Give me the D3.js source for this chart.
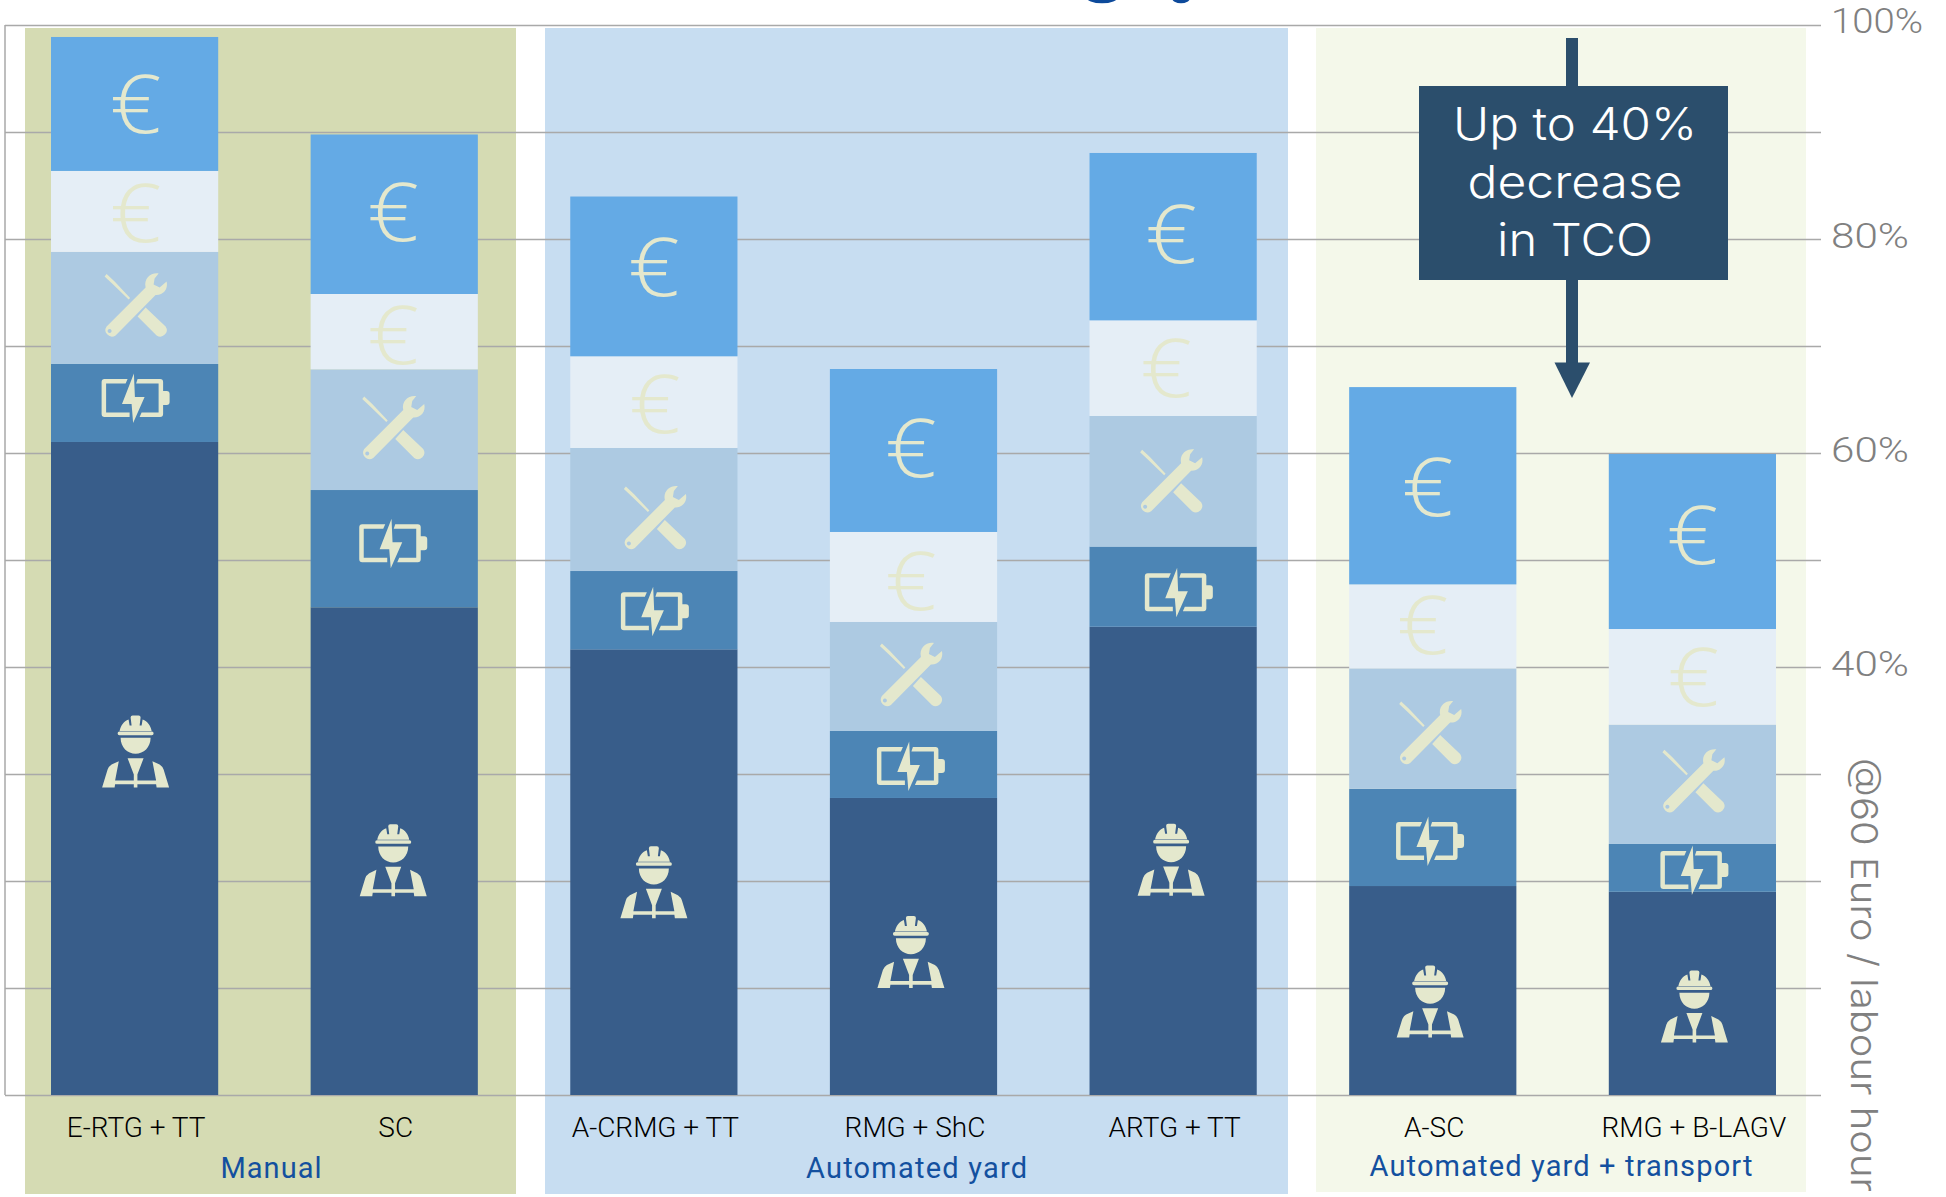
<!DOCTYPE html>
<html>
<head>
<meta charset="utf-8">
<script src="https://cdn.jsdelivr.net/npm/d3@7"></script>
<style>
  html, body { margin: 0; padding: 0; background: #fff; overflow: hidden; }
  svg { display: block; }
</style>
</head>
<body>
<div id="chart"></div>
<script>
// categories and values (% of the tallest scale)
var categories = ["E-RTG + TT", "SC", "A-CRMG + TT", "RMG + ShC", "ARTG + TT", "A-SC", "RMG + B-LAGV"];
var labour      = [61.03, 45.58, 41.65, 27.76, 43.77, 19.53, 18.99];
var energy      = [7.29, 10.96, 7.32, 6.26, 7.48, 9.09, 4.47];
var maintenance = [10.47, 11.28, 11.5, 10.19, 12.21, 11.25, 11.16];
var costPale    = [7.57, 7.04, 8.57, 8.41, 8.94, 7.85, 8.93];
var costTop     = [12.52, 14.91, 14.93, 15.23, 15.64, 18.44, 16.36];
var tickValues  = [0, 10, 20, 30, 40, 50, 60, 70, 80, 90, 100];
var tickLabels  = [100, 80, 60, 40];
var groupNames  = ["Manual", "Automated yard", "Automated yard + transport"];
var calloutLines = ["Up to 40%", "decrease", "in TCO"];

var width = 1946, height = 1197;

var seriesKeys = ["labour", "energy", "maintenance", "costPale", "costTop"];
var seriesValues = { labour: labour, energy: energy, maintenance: maintenance, costPale: costPale, costTop: costTop };
var colors = { labour: "#385d8a", energy: "#4c85b5", maintenance: "#adcae2", costPale: "#e5eef6", costTop: "#64aae5" };
var iconColor = "#e4e8cd";

// the icons sit a little off the middle of their segment, bar by bar
var iconDx = {
    labour:      [1, -1, 0, -2.6, -2, -2.6, 2],
    energy:      [1, -1, 1, -2.6, 5.7, -2.7, 2],
    maintenance: [1, -1, 1, -2.6, -2, -2.6, 1],
    costPale:    [1, -1, 1, -2.6, -7, -10, 1],
    costTop:     [1, -1, 0, -2.6, -2, -5, 0]
};
var iconDy = {
    labour:      [-17, 9, 10, 5.5, -1, 11, 13],
    energy:      [-5, -5.5, 1, 1.5, 5.5, 3.7, 2],
    maintenance: [-2.5, -1.6, 8.5, -1.5, 0, 4.5, -3],
    costPale:    [0, 2.5, 1, 2.7, -1, -3, -1],
    costTop:     [-1, -3, -11, -4, -3.6, 0, -8]
};

var icons = {
    wrench: "M23,-32 L19,-27 L18,-21 L24,-18 L31,-24 C33,-16 27,-10 20,-10.5 L-20,30 A6.5,6.5 0 0 1 -29,21 L10,-18 C8,-27 15,-33 23,-32 Z " +
            "M-26,23.5 a2,2 0 1 0 0.01,0 Z " +
            "M2,11 L10,2 L30,21 A6.5,6.5 0 0 1 21,30 Z " +
            "M-31,-29 L-29,-31.5 L-21,-24 L-5.5,-7.5 L-7,-6 L-23,-21.5 Z",
    battery: "M-8,-19 L-31,-19 Q-34,-19 -34,-16 L-34,16 Q-34,19 -31,19 L-6,19 L-6,14.5 L-29.5,14.5 L-29.5,-14.5 L-10,-14.5 Z " +
             "M2,-19 L24.5,-19 Q27.5,-19 27.5,-16 L27.5,-7 L31,-7 Q34,-7 34,-4 L34,4 Q34,7 31,7 L27.5,7 L27.5,16 Q27.5,19 24.5,19 L4,19 L6,14.5 L23,14.5 L23,-14.5 L0.5,-14.5 Z " +
             "M-1.7,-24.5 L-13.6,6 L-4,6 L-2.5,25 L9,-1 L-0.7,-1 Z",
    worker: "M-16,-20.5 C-15,-26 -12,-30 -7,-32 L-6,-26 L-4,-26 L-5,-34 Q-5,-36 -3,-36 L3,-36 Q5,-36 5,-34 L4,-26 L6,-26 L7,-32 C12,-30 15,-26 16,-20.5 Z " +
            "M-16.2,-20 L16.2,-20 Q18,-20 18,-18.2 Q18,-16.3 16.2,-16.3 L-16.2,-16.3 Q-18,-16.3 -18,-18.2 Q-18,-20 -16.2,-20 Z " +
            "M-15,-13.7 L15,-13.7 C15,-4 8,2.3 0,2.3 C-8,2.3 -15,-4 -15,-13.7 Z " +
            "M-16.8,9.7 L-24,13 Q-27,15 -28,18 L-33.5,36 L-21,36 L-20.5,32.7 L-1.8,32.7 L-1.8,36 L1.8,36 L1.8,32.7 L20.5,32.7 L21,36 L33.5,36 L28,18 Q27,15 24,13 L16.8,9.7 L20.5,29 L1.8,29 L1.8,23 L8,6.7 L-8,6.7 L-1.8,23 L-1.8,29 L-20.5,29 Z"
};

var x = d3.scaleBand().domain(categories).range([51, 1776]).paddingInner(0.356).paddingOuter(0);
var y = d3.scaleLinear().domain([0, 100]).range([1095, 25]);

var table = categories.map(function (c, i) {
    var row = { category: c };
    seriesKeys.forEach(function (k) { row[k] = seriesValues[k][i]; });
    return row;
});
var stacked = d3.stack().keys(seriesKeys)(table);

var svg = d3.select("#chart").append("svg").attr("width", width).attr("height", height);

// the title above is cut off by the crop, only its descenders are left
svg.append("ellipse").attr("cx", 1102).attr("cy", -3).attr("rx", 16).attr("ry", 6.3).attr("fill", "#0d4a9b");
svg.append("ellipse").attr("cx", 1181).attr("cy", -2).attr("rx", 9).attr("ry", 5.3).attr("fill", "#0d4a9b");

// group panels
var panels = [
    { x0: 25, x1: 516, bottom: 1194, fill: "#d5dbb3" },
    { x0: 545, x1: 1288, bottom: 1194, fill: "#c7ddf1" },
    { x0: 1316, x1: 1806, bottom: 1192, fill: "#f4f8ea" }
];
svg.append("g").selectAll("rect").data(panels).join("rect")
    .attr("x", function (d) { return d.x0; })
    .attr("y", 28)
    .attr("width", function (d) { return d.x1 - d.x0; })
    .attr("height", function (d) { return d.bottom - 28; })
    .attr("fill", function (d) { return d.fill; });

// gridlines
var axis = d3.axisRight(y).tickValues(tickValues).tickSize(1816).tickFormat("");
var gridG = svg.append("g").attr("transform", "translate(5,0)").call(axis);
gridG.select(".domain").attr("stroke", "#a9a9a9").attr("stroke-width", 1.5).attr("d", "M0,25V1095");
gridG.selectAll(".tick line").attr("stroke", "#a9a9a9").attr("stroke-width", 1.5);

// stacked bars
var layers = svg.append("g").selectAll("g").data(stacked).join("g")
    .attr("fill", function (d) { return colors[d.key]; });
layers.selectAll("rect").data(function (d) { return d; }).join("rect")
    .attr("x", function (d) { return x(d.data.category); })
    .attr("y", function (d) { return y(d[1]); })
    .attr("width", x.bandwidth())
    .attr("height", function (d) { return y(d[0]) - y(d[1]); });

// icons on the segments
var iconFor = { labour: "worker", energy: "battery", maintenance: "wrench" };
stacked.forEach(function (layer) {
    var key = layer.key;
    layer.forEach(function (d, i) {
        var cx = x(d.data.category) + x.bandwidth() / 2 + iconDx[key][i];
        var cy = (y(d[0]) + y(d[1])) / 2 + iconDy[key][i];
        if (iconFor[key]) {
            svg.append("path")
                .attr("d", icons[iconFor[key]])
                .attr("fill-rule", "evenodd")
                .attr("fill", iconColor)
                .attr("transform", "translate(" + cx + "," + cy + ")");
        } else {
            // euro sign, a bit wider than Open Sans draws it
            svg.append("text")
                .attr("transform", "translate(" + cx + "," + cy + ") scale(1.08,0.97)")
                .attr("dy", "0.37em")
                .attr("text-anchor", "middle")
                .style("font-family", "'Open Sans'")
                .style("font-weight", 300)
                .style("font-size", "84px")
                .attr("fill", iconColor)
                .text("€");
        }
    });
});

// category labels
svg.append("g").selectAll("text").data(categories).join("text")
    .attr("x", function (d) { return x(d) + x.bandwidth() / 2 + 1.5; })
    .attr("y", 1137)
    .attr("text-anchor", "middle")
    .style("font-family", "Roboto")
    .style("font-weight", 300)
    .style("font-size", "28px")
    .attr("fill", "#000")
    .text(function (d) { return d; });

// group labels
var groupPos = [{ x: 271, y: 1178, w: 101 }, { x: 916.5, y: 1178, w: 221 }, { x: 1561, y: 1176, w: 383 }];
svg.append("g").selectAll("text").data(groupNames).join("text")
    .attr("x", function (d, i) { return groupPos[i].x; })
    .attr("y", function (d, i) { return groupPos[i].y; })
    .attr("text-anchor", "middle")
    .attr("textLength", function (d, i) { return groupPos[i].w; })
    .style("font-family", "Roboto")
    .style("font-size", "29px")
    .attr("fill", "#13509f")
    .text(function (d) { return d; });

// right hand percentage labels
svg.append("g").selectAll("text").data(tickLabels).join("text")
    .attr("x", 1831)
    .attr("y", function (d) { return d === 100 ? 33 : y(d) + 9; })
    .attr("textLength", function (d) { return d === 100 ? 92 : 78; })
    .attr("lengthAdjust", "spacingAndGlyphs")
    .style("font-family", "Roboto")
    .style("font-weight", 300)
    .style("font-size", "35px")
    .attr("fill", "#808080")
    .text(function (d) { return d + "%"; });

// rotated unit label
svg.append("text")
    .attr("transform", "translate(1851,758) rotate(90)")
    .attr("textLength", 434)
    .attr("lengthAdjust", "spacingAndGlyphs")
    .style("font-family", "Inter")
    .style("font-weight", 300)
    .style("font-size", "37px")
    .attr("fill", "#808080")
    .text("@60 Euro / labour hour");

// callout: arrow behind the box
var calloutWidths = [244, 215, 156];
var callout = svg.append("g");
callout.append("rect").attr("x", 1566).attr("y", 38).attr("width", 12).attr("height", 326).attr("fill", "#2b4e6c");
callout.append("path").attr("d", "M1554.5,362.5 L1590,362.5 L1572,398 Z").attr("fill", "#2b4e6c");
callout.append("rect").attr("x", 1419).attr("y", 86).attr("width", 309).attr("height", 194).attr("fill", "#2b4e6c");
callout.selectAll("text").data(calloutLines).join("text")
    .attr("x", 1575)
    .attr("y", function (d, i) { return 140 + i * 58; })
    .attr("text-anchor", "middle")
    .attr("textLength", function (d, i) { return calloutWidths[i]; })
    .attr("lengthAdjust", "spacingAndGlyphs")
    .style("font-family", "Inter")
    .style("font-weight", 300)
    .style("font-size", "45px")
    .attr("fill", "#fff")
    .text(function (d) { return d; });
</script>
</body>
</html>
